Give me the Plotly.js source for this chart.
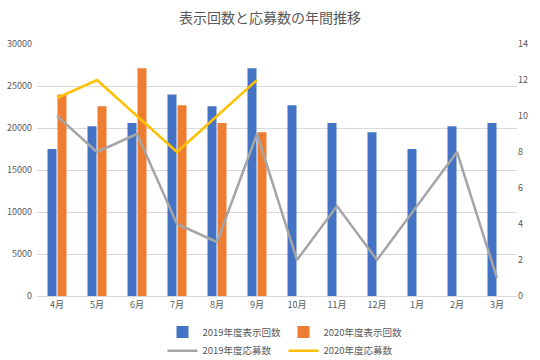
<!DOCTYPE html>
<html>
<head>
<meta charset="utf-8">
<script src="https://cdn.plot.ly/plotly-3.0.1.min.js"></script>
<style>html,body{margin:0;padding:0;background:#fff;}#chart{width:540px;height:360px;}</style>
</head>
<body>
<div id="chart"></div>
<script>
const months = ['4月','5月','6月','7月','8月','9月','10月','11月','12月','1月','2月','3月'];
const views2019 = [17500, 20200, 20600, 24000, 22600, 27100, 22700, 20600, 19500, 17500, 20200, 20600];
const views2020 = [24000, 22600, 27100, 22700, 20600, 19500, null, null, null, null, null, null];
const apps2019 = [10, 8, 9, 4, 3, 9, 2, 5, 2, 5, 8, 1];
const apps2020 = [11, 12, 10, 8, 10, 12, null, null, null, null, null, null];

const font = {family: '"Noto Sans CJK JP", "Noto Sans", sans-serif', color: '#595959', size: 9};

const traces = [
  {type: 'bar', name: '2019年度表示回数', x: months, y: views2019, marker: {color: '#4472C4'}, legend: 'legend'},
  {type: 'bar', name: '2020年度表示回数', x: months, y: views2020, marker: {color: '#ED7D31'}, legend: 'legend'},
  {type: 'scatter', mode: 'lines', name: '2019年度応募数', x: months, y: apps2019, yaxis: 'y2', line: {color: '#A5A5A5', width: 2.5}, legend: 'legend2'},
  {type: 'scatter', mode: 'lines', name: '2020年度応募数', x: months, y: apps2020, yaxis: 'y2', line: {color: '#FFC000', width: 2.5}, legend: 'legend2'}
];

const legendBase = {orientation: 'h', xref: 'container', yref: 'container', xanchor: 'center', x: 0.525, yanchor: 'middle', entrywidth: 76, entrywidthmode: 'pixels', font: {family: font.family, color: '#595959', size: 9.5}, bgcolor: 'rgba(0,0,0,0)', itemwidth: 30};

const layout = {
  width: 540, height: 360,
  margin: {l: 37, r: 23, t: 44, b: 64, autoexpand: false},
  paper_bgcolor: '#ffffff', plot_bgcolor: '#ffffff',
  font: font,
  title: {text: '表示回数と応募数の年間推移', x: 0.5, xanchor: 'center', y: 0.95, yanchor: 'middle', font: {family: font.family, size: 14, color: '#595959'}},
  barmode: 'group', bargap: 0.5, bargroupgap: 0.1,
  xaxis: {type: 'category', showgrid: false, showline: true, linecolor: '#d9d9d9', linewidth: 1, ticks: '', tickfont: font, fixedrange: true},
  yaxis: {range: [0, 30000], dtick: 5000, showgrid: true, gridcolor: '#d9d9d9', gridwidth: 1, zeroline: false, ticks: '', tickfont: font, tickformat: 'd', ticklabelstandoff: 4},
  yaxis2: {range: [0, 14], dtick: 2, overlaying: 'y', side: 'right', showgrid: false, zeroline: false, ticks: '', tickfont: font},
  legend: Object.assign({}, legendBase, {y: 0.078}),
  legend2: Object.assign({}, legendBase, {y: 0.026}),
  showlegend: true
};

Plotly.newPlot('chart', traces, layout, {displayModeBar: false, staticPlot: true});
</script>
</body>
</html>
